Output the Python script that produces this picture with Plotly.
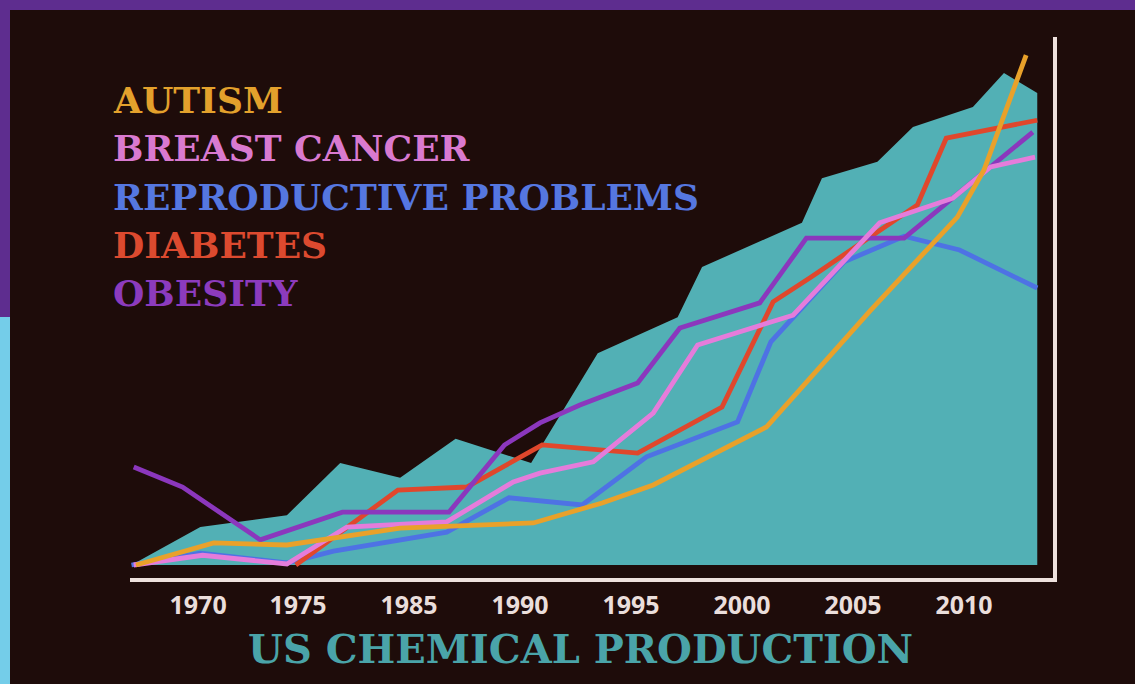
import plotly.graph_objects as go

# ---------------- data ----------------
# x positions are in "year" units of the drawing; y is an index of 0-100
chem_years = [1972.5, 1975.6, 1979.5, 1981.9, 1984.6, 1987.1, 1990.5, 1993.5, 1997.1,
              1998.2, 2002.7, 2003.6, 2006.1, 2007.7, 2010.4, 2011.8, 2013.3]
chem_values = [0, 7.4, 9.7, 19.9, 17.0, 24.6, 19.9, 41.3, 48.3,
               58.1, 66.7, 75.4, 78.6, 85.4, 89.3, 95.9, 92.0]

autism_years = [1972.7, 1976.2, 1979.5, 1984.6, 1990.6, 1993.7, 1996.0, 2001.1,
                2005.8, 2009.7, 2010.9, 2012.8]
autism_values = [0, 4.3, 3.9, 7.2, 8.2, 12.1, 15.6, 26.9, 49.7, 67.8, 77.0, 99.4]

breast_years = [1972.6, 1975.7, 1979.5, 1982.2, 1986.7, 1989.7, 1990.9, 1993.3, 1996.0,
                1998.0, 2002.3, 2006.2, 2009.5, 2011.2, 2013.2]
breast_values = [0, 1.9, 0.2, 7.4, 8.4, 16.2, 17.9, 20.1, 29.6, 42.9, 48.7, 66.7,
                 71.5, 77.6, 79.5]

repro_years = [1972.5, 1975.6, 1979.5, 1981.6, 1986.7, 1989.5, 1992.8, 1995.7, 1999.8,
               2001.3, 2004.6, 2007.3, 2009.8, 2013.3]
repro_values = [0, 2.3, 0.4, 2.7, 6.4, 13.1, 11.7, 21.1, 27.9, 43.5, 59.1, 64.1, 61.4, 54.0]

diabetes_years = [1979.9, 1984.5, 1987.6, 1991.0, 1995.3, 1999.1, 2001.4, 2003.1,
                  2007.9, 2009.2, 2013.3]
diabetes_values = [0, 14.6, 15.2, 23.4, 21.8, 30.8, 51.3, 56.1, 70.2, 83.2, 86.7]

obesity_years = [1972.6, 1974.8, 1978.3, 1982.0, 1986.8, 1989.3, 1990.9, 1992.7, 1995.3,
                 1997.2, 2000.8, 2002.9, 2007.3, 2013.1]
obesity_values = [19.1, 15.2, 4.9, 10.3, 10.3, 23.4, 27.7, 31.2, 35.5, 46.2, 51.1,
                  63.7, 63.7, 84.4]

tick_positions = [1975.5, 1980, 1985, 1990, 1995, 2000, 2005, 2010]
tick_labels = ["1970", "1975", "1985", "1990", "1995", "2000", "2005", "2010"]

legend_names = ["AUTISM", "BREAST CANCER", "REPRODUCTIVE PROBLEMS", "DIABETES", "OBESITY"]
title_text = "US CHEMICAL PRODUCTION"

# ---------------- styles ----------------
colors = {
    "AUTISM": "#e9a12a",
    "BREAST CANCER": "#e57cdb",
    "REPRODUCTIVE PROBLEMS": "#4e72e4",
    "DIABETES": "#e0472c",
    "OBESITY": "#8b37bd",
}
text_colors = {
    "AUTISM": "#e3a12c",
    "BREAST CANCER": "#d97ad0",
    "REPRODUCTIVE PROBLEMS": "#5577e0",
    "DIABETES": "#dc4a2f",
    "OBESITY": "#8c3bbd",
}
BG = "#1e0c0a"
TEAL = "#52b0b5"
AXIS = "#eee1dd"

W, H = 1135, 684
L, R, T, B = 130, 1053, 37, 578  # plot area in pixels


def px_x(px):
    return (px - L) / (R - L)


def px_y(py):
    return (B - py) / (B - T)


series = {
    "AUTISM": (autism_years, autism_values),
    "BREAST CANCER": (breast_years, breast_values),
    "REPRODUCTIVE PROBLEMS": (repro_years, repro_values),
    "DIABETES": (diabetes_years, diabetes_values),
    "OBESITY": (obesity_years, obesity_values),
}
draw_order = ["REPRODUCTIVE PROBLEMS", "DIABETES", "OBESITY", "BREAST CANCER", "AUTISM"]

fig = go.Figure()
fig.add_trace(go.Scatter(
    x=chem_years, y=chem_values, mode="lines", fill="tozeroy",
    fillcolor=TEAL, line=dict(width=0, color=TEAL), name=title_text,
    showlegend=False, hoverinfo="skip"))

for name in draw_order:
    xs, ys = series[name]
    fig.add_trace(go.Scatter(
        x=xs, y=ys, mode="lines", name=name, showlegend=False,
        line=dict(color=colors[name], width=4.8, shape="linear")))

annotations = []
legend_y = [100, 148, 197, 245, 293]
for name, py in zip(legend_names, legend_y):
    annotations.append(dict(
        text=name, xref="paper", yref="paper", x=px_x(111), y=px_y(py),
        xanchor="left", yanchor="middle", showarrow=False,
        font=dict(family="DejaVu Serif", size=36, color=text_colors[name], weight="bold")))
annotations.append(dict(
    text=title_text, xref="paper", yref="paper", x=px_x(580), y=px_y(648),
    xanchor="center", yanchor="middle", showarrow=False,
    font=dict(family="DejaVu Serif", size=40, color="#4aa4a9", weight="bold")))

shapes = [
    dict(type="rect", xref="paper", yref="paper", x0=px_x(0), x1=px_x(W), y0=px_y(0), y1=px_y(10),
         fillcolor="#5e2d8f", line=dict(width=0), layer="above"),
    dict(type="rect", xref="paper", yref="paper", x0=px_x(0), x1=px_x(10), y0=px_y(0), y1=px_y(317),
         fillcolor="#5e2d8f", line=dict(width=0), layer="above"),
    dict(type="rect", xref="paper", yref="paper", x0=px_x(0), x1=px_x(10), y0=px_y(317), y1=px_y(H),
         fillcolor="#74cde9", line=dict(width=0), layer="above"),
]

x_lo = 2000 + (L - 742) / 22.2
x_hi = 2000 + (R - 742) / 22.2
y_lo = (565 - B) / 5.13
y_hi = (565 - T) / 5.13

fig.update_layout(
    width=W, height=H,
    margin=dict(l=L, r=W - R, t=T, b=H - B),
    paper_bgcolor=BG, plot_bgcolor=BG,
    annotations=annotations, shapes=shapes,
    showlegend=False,
    xaxis=dict(range=[x_lo, x_hi], showgrid=False, zeroline=False,
               showline=True, linecolor=AXIS, linewidth=4,
               tickmode="array", tickvals=tick_positions, ticktext=tick_labels,
               ticks="", ticklabelstandoff=2,
               tickfont=dict(family="Open Sans", size=25, color="#eadedb", weight="bold")),
    yaxis=dict(range=[y_lo, y_hi], showgrid=False, zeroline=False,
               showline=True, linecolor=AXIS, linewidth=4, side="right",
               showticklabels=False, ticks=""),
)

fig.write_html("out.html")
